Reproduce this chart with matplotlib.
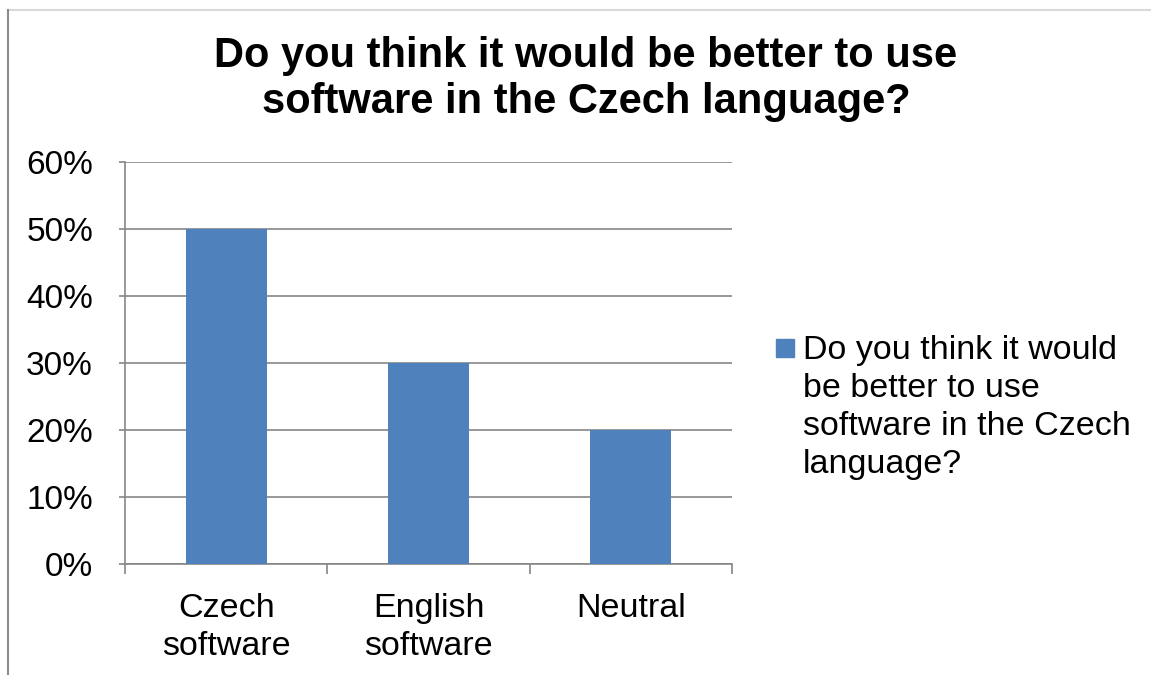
import matplotlib
matplotlib.use("Agg")
import matplotlib.pyplot as plt
from matplotlib.lines import Line2D
from matplotlib.patches import Rectangle
from matplotlib.ticker import FixedLocator, PercentFormatter

categories = ["Czech\nsoftware", "English\nsoftware", "Neutral"]
values = [0.50, 0.30, 0.20]
y_ticks = [0.0, 0.1, 0.2, 0.3, 0.4, 0.5, 0.6]
title = "Do you think it would be better to use\nsoftware in the Czech language?"
series_name = "Do you think it would\nbe better to use\nsoftware in the Czech\nlanguage?"
bar_color = "#4F81BD"

plt.rcParams['font.family'] = ['Liberation Sans', 'DejaVu Sans']

W, H = 1151, 675
fig = plt.figure(figsize=(W / 100, H / 100), dpi=100)

# chart frame lines
fig.add_artist(Line2D([8 / W, 1], [1 - 10 / H, 1 - 10 / H], color="#d9d9d9", lw=1.5, transform=fig.transFigure))
fig.add_artist(Line2D([8 / W, 8 / W], [0, 1 - 10 / H], color="#8c8c8c", lw=1.5, transform=fig.transFigure))

ax = fig.add_axes([125 / W, (H - 564) / H, (732 - 125) / W, (564 - 162) / H])

x = range(len(categories))
ax.bar(x, values, width=0.4, color=bar_color, label=series_name, zorder=3)

ax.set_xlim(-0.5, len(categories) - 0.5)
ax.set_ylim(0, 0.6)
ax.set_yticks(y_ticks)
ax.yaxis.set_major_formatter(PercentFormatter(1.0, decimals=0))
ax.set_xticks(list(x))
ax.set_xticklabels(categories, fontsize=24.5, linespacing=1.3)
ax.xaxis.set_minor_locator(FixedLocator([-0.5, 0.5, 1.5, 2.5]))
ax.tick_params(axis="x", which="major", length=0, pad=21)
ax.tick_params(axis="x", which="minor", length=7, width=1.2, color="#868686", direction="out")
ax.tick_params(axis="y", length=4, width=1.2, color="#868686", labelsize=24, pad=19)

ax.grid(axis="y", color="#868686", lw=1.2, zorder=0)
for s in ["top", "right"]:
    ax.spines[s].set_visible(False)
for s in ["left", "bottom"]:
    ax.spines[s].set_color("#868686")
    ax.spines[s].set_linewidth(1.2)

fig.text(586 / W, 1 - 79 / H, title, ha="center", va="center", fontsize=30,
         fontweight="bold", linespacing=1.2)

# legend: square marker aligned with the first line of the wrapped label
fig.add_artist(Rectangle((776 / W, 1 - 357 / H), 18 / W, 18 / H, color=bar_color,
                         transform=fig.transFigure))
fig.text(803 / W, 1 - 335 / H, series_name, ha="left", va="top", fontsize=24.5,
         linespacing=1.29)

fig.savefig("out.png", dpi=100)
